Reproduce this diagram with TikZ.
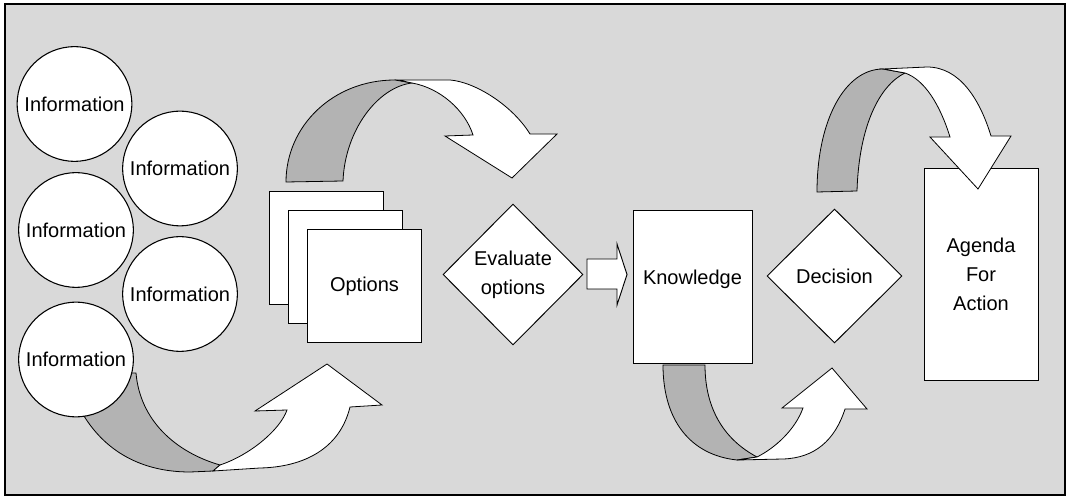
\documentclass[tikz,border=0pt]{standalone}
\usepackage{fontspec}
\setmainfont{Liberation Sans}
\usetikzlibrary{shapes.geometric}

\definecolor{panelgray}{HTML}{D9D9D9}
\definecolor{ribbongray}{HTML}{B3B3B3}

\begin{document}
\begin{tikzpicture}[x=0.75pt, y=-0.75pt,
    every node/.style={font=\fontsize{15}{21.75}\selectfont},
    info/.style={circle, draw, line width=0.8pt, fill=white, minimum size=86pt, inner sep=0pt},
    page/.style={rectangle, draw, line width=0.75pt, fill=white, minimum width=85.5pt, minimum height=84.75pt, inner sep=0pt},
    choice/.style={diamond, draw, line width=0.7pt, fill=white, inner sep=0pt, align=center},
    back/.style={draw, line width=0.6pt, fill=ribbongray},
    front/.style={draw, line width=0.6pt, fill=white}]
    \useasboundingbox (0,0) rectangle (1069,498);

    % Draw the panel
    \draw[fill=panelgray, line width=0.9pt] (5,4) rectangle (1065,495);

    % Curved arrow from the information circles
    \draw[back] (84,416) .. controls (105,450) and (140,472) .. (190,472) -- (213,471) -- (220,465)
        .. controls (175,452) and (140,420) .. (136,373) -- (125,373) -- cycle;
    \draw[front] (220,465) .. controls (250,455) and (280,430) .. (287,410) -- (255,411) -- (327,364)
        -- (382,405) -- (350,407) .. controls (340,448) and (305,467) .. (260,468) -- (213,471) -- cycle;

    % Information circles
    \foreach \n/\cx/\cy in {1/74.5/104, 2/180/168.5, 3/76/230, 4/180/294, 5/76/359.5}
        \node[info] (info\n) at (\cx,\cy) {Information};

    % Curved arrow over the options
    \draw[back] (286,182) .. controls (286,126) and (333,80) .. (395,80) -- (412,83)
        .. controls (378,87) and (345,130) .. (343,181) -- cycle;
    \draw[front] (412,83) -- (398,80) -- (450,80) .. controls (475,82) and (512,105) .. (530,134)
        -- (557,134) -- (512,178) -- (445,136) -- (473,135) .. controls (465,110) and (440,88) .. (412,83) -- cycle;

    % Stacked options
    \foreach \n/\cx/\cy in {1/326/248.5, 2/345/267.5}
        \node[page] (opt\n) at (\cx,\cy) {};
    \node[page] (opt3) at (364.5,286.5) {Options};

    % Evaluate and knowledge
    \node[choice, minimum width=105pt, minimum height=105.75pt] (eval) at (513,274.5) {Evaluate\\options};
    \draw[front, line width=0.7pt] (587,259) -- (617,259) -- (617,244) -- (627,274.5) -- (617,305)
        -- (617,289) -- (587,289) -- cycle;
    \node[draw, line width=0.75pt, fill=white, minimum width=89.25pt, minimum height=114pt, inner sep=0pt]
        (know) at (692.5,287) {};
    \node (knowtext) at (692.5,279) {Knowledge};

    % Curved arrow from knowledge to decision
    \draw[back] (663,365) .. controls (663,420) and (690,455) .. (737,460) -- (757,457)
        .. controls (725,440) and (705,410) .. (705,365) -- cycle;
    \draw[front] (757,457) .. controls (775,448) and (795,430) .. (803,408) -- (782,408) -- (832,368)
        -- (867,409) -- (845,409) .. controls (835,440) and (815,458) .. (783,459) -- (737,460) -- cycle;

    % Decision and agenda
    \node[choice, minimum width=101.25pt, minimum height=100.5pt] (dec) at (834.5,276) {Decision};
    \node[draw, line width=0.75pt, fill=white, minimum width=85.5pt, minimum height=158.25pt, inner sep=0pt,
        align=center] (agenda) at (981,274.5) {Agenda\\For\\Action};

    % Curved arrow into the agenda
    \draw[back] (817,192) .. controls (817,120) and (845,69) .. (883,69) -- (905,73)
        .. controls (880,85) and (859,125) .. (857,191) -- cycle;
    \draw[front] (905,73) -- (883,69) -- (927,67) .. controls (960,67) and (980,100) .. (991,136)
        -- (1011,136) -- (978,189) -- (930,137) -- (950,137) .. controls (940,105) and (925,80) .. (905,73) -- cycle;
\end{tikzpicture}
\end{document}
